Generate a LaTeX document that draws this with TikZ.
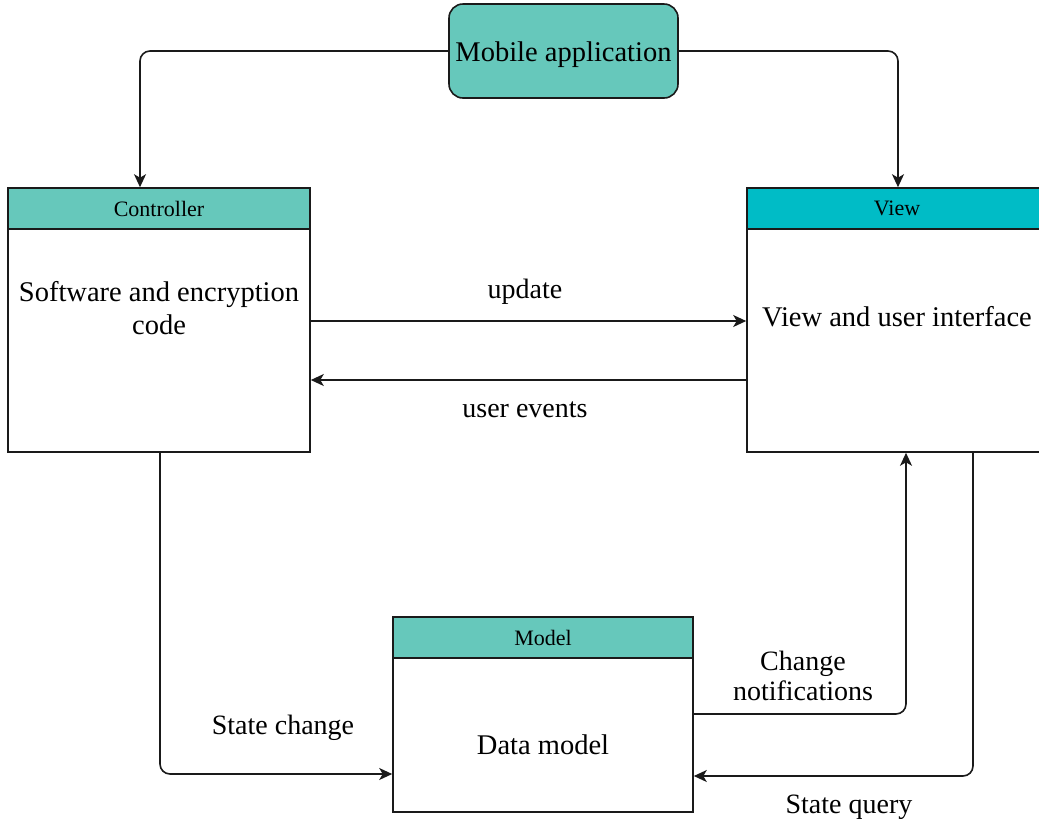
\documentclass[tikz,border=0pt]{standalone}
\usepackage{fontspec}
\setmainfont{Liberation Serif}
\usetikzlibrary{arrows.meta,positioning,calc}

\definecolor{tealhead}{HTML}{66C8BB}
\definecolor{cyanhead}{HTML}{00BCC6}
\definecolor{edge}{HTML}{1A1A1A}

\tikzset{
  box/.style={draw=edge, line width=1.6pt, rectangle, inner sep=0pt, minimum width=302pt},
  headbox/.style={box, minimum height=41pt, font=\fontsize{22}{26}\selectfont},
  bodybox/.style={box, fill=white},
  appbox/.style={draw=edge, line width=1.6pt, rectangle, rounded corners=14pt, fill=tealhead,
    minimum width=229pt, minimum height=94pt, inner sep=0pt, text height=25pt, text depth=4pt,
    font=\fontsize{28.5}{33}\selectfont},
  bigtext/.style={align=center, inner sep=0pt, font=\fontsize{28.5}{33}\selectfont},
  lbl/.style={align=center, inner sep=0pt, font=\fontsize{28}{30}\selectfont},
  conn/.style={draw=edge, line width=1.6pt, rounded corners=10pt,
    -{Stealth[length=13pt,width=12pt,inset=3.5pt]}},
}

\begin{document}
\begin{tikzpicture}[x=1pt, y=-1pt]
\useasboundingbox (0,0) rectangle (1039,823);

% mobile application
\node[appbox] (mob) at (563.5,51) {Mobile application};

% controller
\node[headbox, fill=tealhead] (ctrlh) at (159,208.5) {Controller};
\node[bodybox, minimum height=223pt] (ctrl) at (159,340.5) {};
\node[bigtext] (ctrltxt) at (159,308) {Software and encryption\\code};

% view
\node[headbox, fill=cyanhead, minimum width=300pt] (viewh) at (897,208.5) {View};
\node[bodybox, minimum width=300pt, minimum height=223pt] (view) at (897,340.5) {};
\node[bigtext] (viewtxt) at (897,317) {View and user interface};

% model
\node[headbox, fill=tealhead, minimum width=300pt] (modelh) at (543,637.5) {Model};
\node[bodybox, minimum width=300pt, minimum height=154pt] (model) at (543,735) {};
\node[bigtext] (modeltxt) at (543,745) {Data model};

% connectors
\draw[conn] (mob.west) -| ([xshift=-19pt]ctrlh.north);
\draw[conn] (mob.east) -| ([xshift=1pt]viewh.north);
\draw[conn] ([yshift=19.5pt]ctrl.east) -- ([yshift=19.5pt]view.west);
\draw[conn] ([yshift=-39.5pt]view.west) -- ([yshift=-39.5pt]ctrl.east);
\draw[conn] ([xshift=1pt]ctrl.south) |- ([yshift=-39pt]model.west);
\draw[conn] ([yshift=21pt]model.east) -| ([xshift=9pt]view.south);
\draw[conn] ([xshift=76pt]view.south) |- ([yshift=-41pt]model.east);

% connector labels
\node[lbl] (lupdate) at (525,292) {update};
\node[lbl] (levents) at (525,410) {user events};
\node[lbl] (lchange) at (283,728) {State change};
\node[lbl] (lnotify) at (803,676) {Change\\notifications};
\node[lbl] (lquery) at (849,807) {State query};
\end{tikzpicture}
\end{document}
